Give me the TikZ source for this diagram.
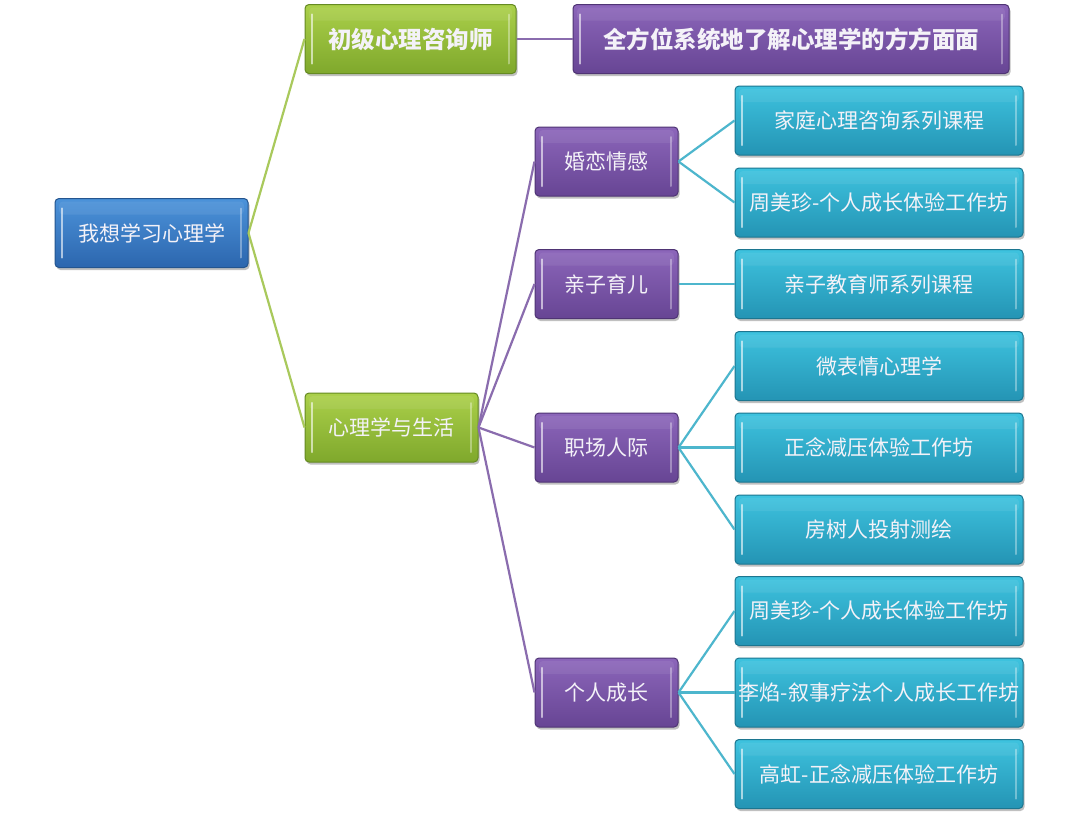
\documentclass[tikz,border=0pt]{standalone}
\usepackage{fontspec}
\setmainfont{Noto Sans CJK SC}
\usetikzlibrary{shadows}
\definecolor{bluetop}{HTML}{4C93DA}
\definecolor{bluebot}{HTML}{2C66AE}
\definecolor{blueedge}{HTML}{24558F}
\definecolor{greentop}{HTML}{ABD04A}
\definecolor{greenbot}{HTML}{7FA82C}
\definecolor{greenedge}{HTML}{658A22}
\definecolor{purtop}{HTML}{8C66BA}
\definecolor{purbot}{HTML}{674594}
\definecolor{puredge}{HTML}{4F3474}
\definecolor{cyantop}{HTML}{3EC3DF}
\definecolor{cyanbot}{HTML}{2494B4}
\definecolor{cyanedge}{HTML}{1C7690}
\definecolor{greenline}{HTML}{A9C95C}
\definecolor{purline}{HTML}{8A6CAE}
\definecolor{cyanline}{HTML}{4DB6CD}
\definecolor{txtwhite}{HTML}{F4F2F8}
\tikzset{
  x=1pt,y=-1pt,
  boxbase/.style={rectangle, rounded corners=4pt, minimum height=69pt, inner sep=0pt,
    text=txtwhite, font=\fontsize{21}{24}\selectfont, line width=1pt,
    drop shadow={shadow xshift=1.5pt, shadow yshift=-2.5pt, opacity=.35, fill=black!70},
    path picture={
      \draw[white,opacity=.6,line width=2.4pt,line cap=round]
        ([xshift=7pt,yshift=-10pt]path picture bounding box.north west) --
        ([xshift=7pt,yshift=10pt]path picture bounding box.south west);
      \draw[white,opacity=.35,line width=2pt,line cap=round]
        ([xshift=-7pt,yshift=-10pt]path picture bounding box.north east) --
        ([xshift=-7pt,yshift=10pt]path picture bounding box.south east);
      \fill[white,opacity=.07]
        ([xshift=4pt,yshift=-3pt]path picture bounding box.north west) rectangle
        ([xshift=-4pt,yshift=-16pt]path picture bounding box.north east);
    }},
  bluebox/.style={boxbase, draw=blueedge, top color=bluetop, bottom color=bluebot},
  greenbox/.style={boxbase, draw=greenedge, top color=greentop, bottom color=greenbot},
  purbox/.style={boxbase, draw=puredge, top color=purtop, bottom color=purbot},
  cyanbox/.style={boxbase, draw=cyanedge, top color=cyantop, bottom color=cyanbot},
  boldtxt/.style={font=\fontsize{23.5}{26}\selectfont\bfseries},
  gline/.style={draw=greenline, line width=2.2pt},
  pline/.style={draw=purline, line width=2.2pt},
  cline/.style={draw=cyanline, line width=2.2pt},
}
\begin{document}
\begin{tikzpicture}
\useasboundingbox[fill=white] (0,0) rectangle (1080,820);

% nodes
\node[bluebox, minimum width=193pt] (root) at (151.5,233) {我想学习心理学};
\node[greenbox, boldtxt, minimum width=211pt] (chuji) at (410.5,39) {初级心理咨询师};
\node[purbox, boldtxt, minimum width=436pt] (quan) at (791,39) {全方位系统地了解心理学的方方面面};
\node[greenbox, minimum width=173pt] (life) at (391.5,427.5) {心理学与生活};

\node[purbox, minimum width=143pt] (hunlian) at (606.5,161.5) {婚恋情感};
\node[purbox, minimum width=143pt] (qinzi) at (606.5,284) {亲子育儿};
\node[purbox, minimum width=143pt] (zhichang) at (606.5,447.5) {职场人际};
\node[purbox, minimum width=143pt] (chengzhang) at (606.5,692.5) {个人成长};

\node[cyanbox, minimum width=288pt] (c1) at (879,120.5) {家庭心理咨询系列课程};
\node[cyanbox, minimum width=288pt] (c2) at (879,202.5) {周美珍-个人成长体验工作坊};
\node[cyanbox, minimum width=288pt] (c3) at (879,284) {亲子教育师系列课程};
\node[cyanbox, minimum width=288pt] (c4) at (879,366) {微表情心理学};
\node[cyanbox, minimum width=288pt] (c5) at (879,447.5) {正念减压体验工作坊};
\node[cyanbox, minimum width=288pt] (c6) at (879,529.5) {房树人投射测绘};
\node[cyanbox, minimum width=288pt] (c7) at (879,611) {周美珍-个人成长体验工作坊};
\node[cyanbox, minimum width=288pt] (c8) at (879,692.5) {李焰-叙事疗法个人成长工作坊};
\node[cyanbox, minimum width=288pt] (c9) at (879,774) {高虹-正念减压体验工作坊};

% connectors
\draw[gline] (root.east) -- (chuji.west);
\draw[gline] (root.east) -- (life.west);
\draw[pline] (chuji.east) -- (quan.west);
\draw[pline] (life.east) -- (hunlian.west);
\draw[pline] (life.east) -- (qinzi.west);
\draw[pline] (life.east) -- (zhichang.west);
\draw[pline] (life.east) -- (chengzhang.west);
\draw[cline] (hunlian.east) -- (c1.west);
\draw[cline] (hunlian.east) -- (c2.west);
\draw[cline] (qinzi.east) -- (c3.west);
\draw[cline] (zhichang.east) -- (c4.west);
\draw[cline] (zhichang.east) -- (c5.west);
\draw[cline] (zhichang.east) -- (c6.west);
\draw[cline] (chengzhang.east) -- (c7.west);
\draw[cline] (chengzhang.east) -- (c8.west);
\draw[cline] (chengzhang.east) -- (c9.west);
\end{tikzpicture}
\end{document}
